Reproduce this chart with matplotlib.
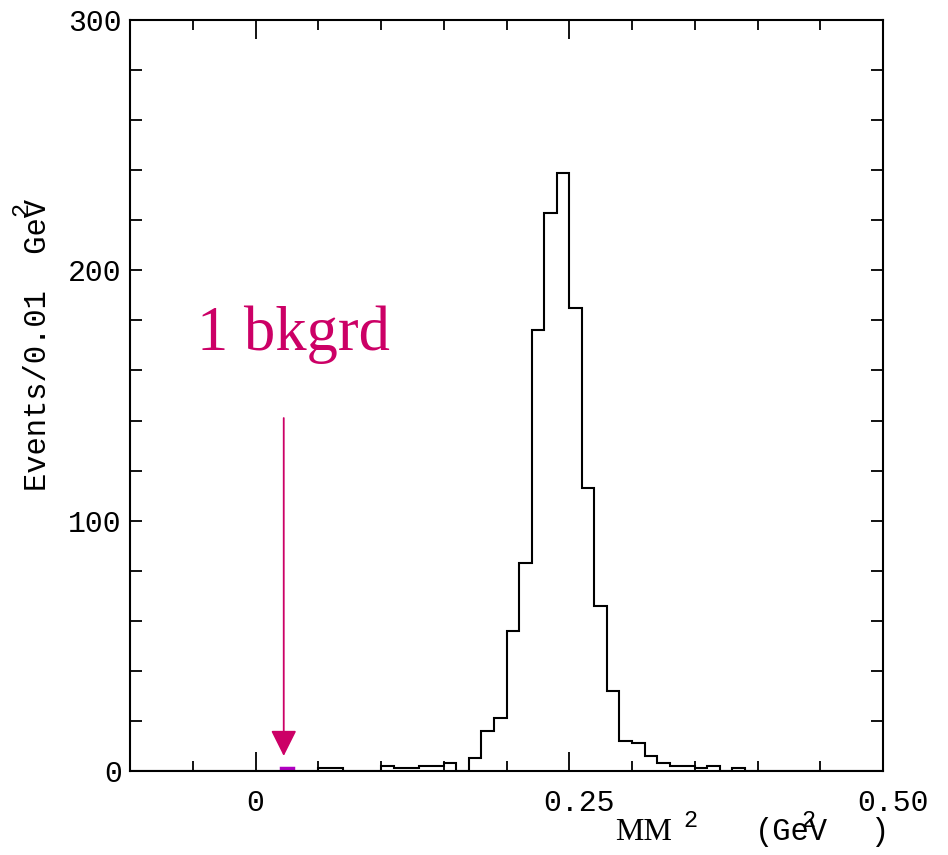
import numpy as np
import matplotlib
matplotlib.use("Agg")
import matplotlib.pyplot as plt
from matplotlib.ticker import MultipleLocator
from matplotlib.transforms import ScaledTranslation

# histogram contents, 0.01 GeV^2 bins from -0.10 to 0.50
bin_lo = -0.10
bin_width = 0.01
counts = [0, 0, 0, 0, 0, 0, 0, 0, 0, 0,        # -0.10 .. -0.01
          0, 0, 0, 0, 0, 1, 1, 0, 0, 0,        # 0.00 .. 0.09
          2, 1, 1, 2, 2, 3, 0, 5, 16, 21,      # 0.10 .. 0.19
          56, 83, 176, 223, 239, 185, 113, 66, 32, 12,  # 0.20 .. 0.29
          11, 6, 3, 2, 2, 1, 2, 0, 1, 0,       # 0.30 .. 0.39
          0, 0, 0, 0, 0, 0, 0, 0, 0, 0]        # 0.40 .. 0.49
bkg_edges = [0.02, 0.03]
bkg_counts = [1]
arrow_x = 0.0225
arrow_from = 141
arrow_to = 6
label_text = "1 bkgrd"

xticks = [0, 0.25, 0.50]
xticklabels = ["0", "0.25", "0.50"]
yticks = [0, 100, 200, 300]
yticklabels = ["0", "100", "200", "300"]

W, H = 948, 855
fig = plt.figure(figsize=(W / 100, H / 100), dpi=100)
ax = fig.add_axes([130 / W, 1 - 771 / H, (883 - 130) / W, (771 - 20) / H])

edges = bin_lo + bin_width * np.arange(len(counts) + 1)
ax.stairs(counts, edges, color="black", linewidth=1.5)
ax.stairs(bkg_counts, bkg_edges, color="#b000c0", linewidth=2.5)

pink = "#cc0066"
ax.annotate("", xy=(arrow_x, arrow_to), xytext=(arrow_x, arrow_from),
            arrowprops=dict(arrowstyle="-|>,head_length=0.8,head_width=0.4",
                            mutation_scale=20, color=pink, lw=1.3,
                            shrinkA=0, shrinkB=0))
ax.text(-0.047, 168, label_text, color=pink, fontsize=45,
        family="Liberation Serif", ha="left", va="baseline")

ax.set_xlim(-0.1, 0.5)
ax.set_ylim(0, 300)
ax.set_xticks(xticks)
ax.set_xticklabels(xticklabels)
ax.set_yticks(yticks)
ax.set_yticklabels(yticklabels)
ax.xaxis.set_minor_locator(MultipleLocator(0.05))
ax.yaxis.set_minor_locator(MultipleLocator(20))

mono = "Liberation Mono"
for lab in ax.get_xticklabels() + ax.get_yticklabels():
    lab.set_family(mono)
    lab.set_fontsize(21.5)

ax.tick_params(which="both", direction="in", top=True, right=True, width=1.3)
ax.tick_params(axis="x", which="major", length=14, pad=13)
ax.tick_params(axis="x", which="minor", length=7)
ax.tick_params(axis="y", which="both", length=8.5, pad=6)
for sp in ax.spines.values():
    sp.set_linewidth(1.5)

# the original prints the decimal labels a little right of their ticks
shift = ScaledTranslation(0.1, 0, fig.dpi_scale_trans)
for lab in ax.get_xticklabels()[1:]:
    lab.set_transform(lab.get_transform() + shift)

# axis titles, placed by hand like the original
def ftext(x, y, s, **kw):
    fig.text(x / W, 1 - y / H, s, ha="center", va="center", **kw)

ftext(38, 345, "Events/0.01  GeV", rotation=90, family=mono, fontsize=22)
ftext(21, 209, "2", rotation=90, family=mono, fontsize=17)
ftext(644, 832, "MM", family="Liberation Serif", fontsize=23)
ftext(690, 820, "2", family=mono, fontsize=17)
ftext(791, 832, "(GeV", family=mono, fontsize=22)
ftext(808, 820, "2", family=mono, fontsize=17)
ftext(879, 832, ")", family=mono, fontsize=22)

fig.savefig("out.png", dpi=100)
